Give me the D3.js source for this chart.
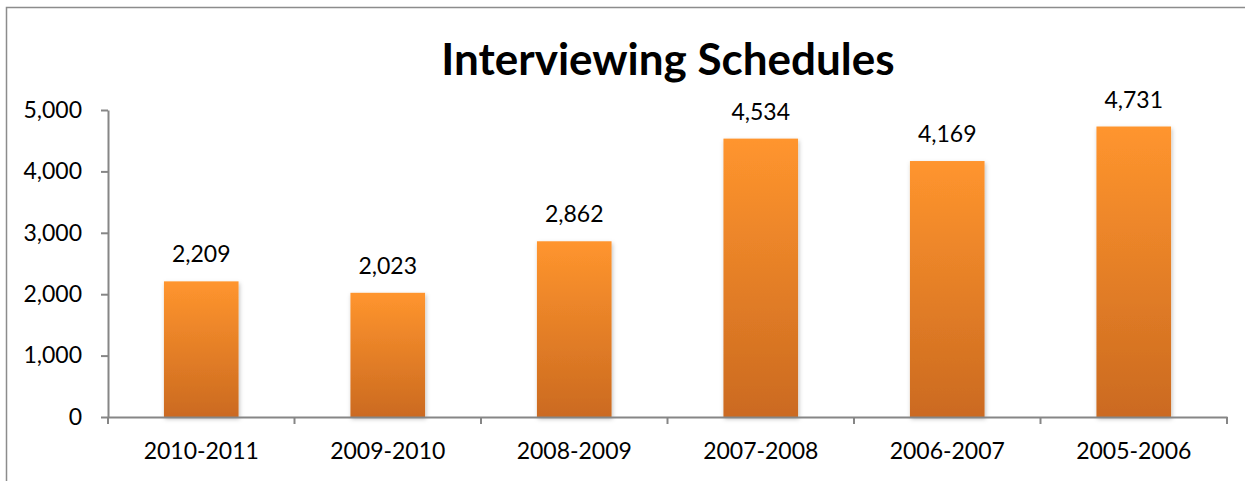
<!DOCTYPE html>
<html>
<head>
<meta charset="utf-8">
<script src="https://cdn.jsdelivr.net/npm/d3@7/dist/d3.min.js"></script>
<style>
  html, body { margin: 0; padding: 0; background: #fff; }
  text { font-family: Lato, "Open Sans", sans-serif; fill: #000; }
</style>
</head>
<body>
<div id="chart"></div>
<script>
var categories = ["2010-2011", "2009-2010", "2008-2009", "2007-2008", "2006-2007", "2005-2006"];
var values = [2209, 2023, 2862, 4534, 4169, 4731];
var yTicks = [0, 1000, 2000, 3000, 4000, 5000];

var width = 1245
 ,  height = 481
 ,  margin = {top: 110, right: 18, bottom: 64, left: 108};

var svg = d3.select("#chart")
  .append("svg")
    .attr("width", width)
    .attr("height", height);

// outer chart border (runs off the right and bottom of the picture)
svg.append("rect")
  .attr("x", 6.5)
  .attr("y", 7.5)
  .attr("width", width + 20)
  .attr("height", height + 20)
  .attr("fill", "none")
  .attr("stroke", "#8c8c8c")
  .attr("stroke-width", 1.5);

var defs = svg.append("defs");
var grad = defs.append("linearGradient")
  .attr("id", "barGrad")
  .attr("x1", 0).attr("y1", 0).attr("x2", 0).attr("y2", 1);
grad.append("stop").attr("offset", "0%").attr("stop-color", "#ff952e");
grad.append("stop").attr("offset", "100%").attr("stop-color", "#cb6a20");

var shadow = defs.append("filter")
  .attr("id", "shadow")
  .attr("x", "-20%").attr("y", "-20%").attr("width", "140%").attr("height", "140%");
shadow.append("feDropShadow")
  .attr("dx", 1).attr("dy", 2).attr("stdDeviation", 2)
  .attr("flood-color", "#000").attr("flood-opacity", 0.25);

var plotW = width - margin.left - margin.right
 ,  plotH = height - margin.top - margin.bottom;

var g = svg.append("g")
  .attr("transform", "translate(" + margin.left + "," + margin.top + ")");

var x = d3.scaleBand()
  .domain(categories)
  .range([0, plotW])
  .paddingInner(0.6)
  .paddingOuter(0.3);

var xEdges = d3.scaleLinear().domain([0, categories.length]).range([0, plotW]);

var y = d3.scaleLinear()
  .domain([0, 5000])
  .range([plotH, 0]);

// title
svg.append("text")
  .attr("x", 668)
  .attr("y", 75)
  .attr("text-anchor", "middle")
  .attr("font-size", "44px")
  .attr("font-weight", "bold")
  .text("Interviewing Schedules");

// bars
g.selectAll(".bar").data(values)
  .enter().append("rect")
    .attr("class", "bar")
    .attr("x", function(d, i) { return x(categories[i]); })
    .attr("y", function(d) { return y(d); })
    .attr("width", x.bandwidth())
    .attr("height", function(d) { return plotH - y(d); })
    .attr("fill", "url(#barGrad)")
    .attr("filter", "url(#shadow)");

// value labels
g.selectAll(".val").data(values)
  .enter().append("text")
    .attr("class", "val")
    .attr("x", function(d, i) { return x(categories[i]) + x.bandwidth() / 2; })
    .attr("y", function(d) { return y(d) - 19; })
    .attr("text-anchor", "middle")
    .attr("font-size", "23px")
    .text(function(d) { return d3.format(",")(d); });

// y axis
var yAxis = g.append("g")
  .call(d3.axisLeft(y).tickValues(yTicks).tickFormat(d3.format(",")).tickSize(7).tickSizeOuter(0).tickPadding(19));

// x axis
var xAxis = g.append("g")
  .attr("transform", "translate(0," + plotH + ")")
  .call(d3.axisBottom(x).tickSize(0).tickSizeOuter(0).tickPadding(26));

xAxis.selectAll(".edge").data(d3.range(categories.length + 1))
  .enter().append("line")
    .attr("class", "edge")
    .attr("x1", function(d) { return xEdges(d); })
    .attr("x2", function(d) { return xEdges(d); })
    .attr("y1", 0)
    .attr("y2", 7);

[yAxis, xAxis].forEach(function(a) {
  a.selectAll("path, line").attr("stroke", "#868686").attr("stroke-width", 2);
  a.selectAll("text").attr("font-size", "23px").attr("font-family", "Lato, 'Open Sans', sans-serif").attr("fill", "#000");
});
</script>
</body>
</html>
